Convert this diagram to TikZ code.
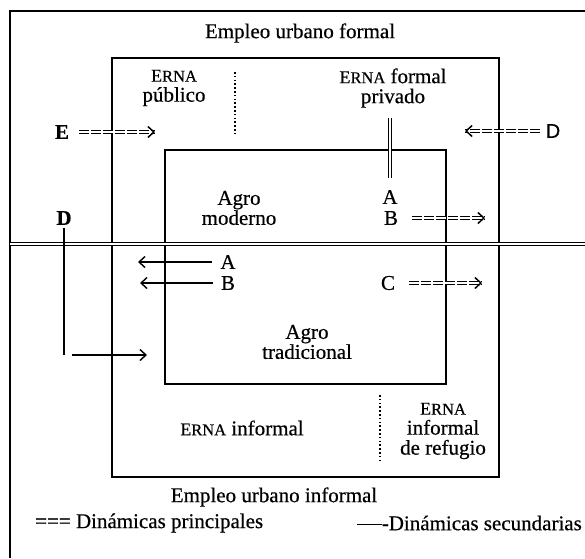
\documentclass[tikz,border=0pt]{standalone}
\usepackage{fontspec}
\setmainfont{Liberation Serif}[FakeBold=0.5]
\newfontfamily\sansD{Liberation Sans}[FakeBold=0.5]
\usetikzlibrary{arrows.meta,decorations.markings}
\newcommand\erna{{\fontsize{18}{20}\selectfont E\fontsize{16.5}{20}\selectfont RNA}}
\begin{document}
\begin{tikzpicture}[x=1pt,y=-1pt,
  frame/.style={line width=1.7pt},
  lbl/.style={inner sep=0pt, align=center, font=\fontsize{21}{20}\selectfont},
  prin/.style={double, double distance=1.3pt, line width=1.4pt, dash pattern=on 10pt off 2pt,
    postaction={decorate},
    decoration={markings, mark=at position 1 with {\arrow[line width=1.5pt]{Straight Barb[length=6pt,width=11pt]}}}},
  sec/.style={line width=1.4pt, -{Straight Barb[length=6pt,width=11pt]}},
  dots/.style={line width=1.5pt, dash pattern=on 1.6pt off 2.2pt},
  dbl/.style={line width=1.3pt, double, double distance=2.2pt}]
\useasboundingbox (0,0) rectangle (585,558);
% frames
\draw[frame] (10,558) -- (10,11) -- (585,11);
\draw[frame] (112,58) rectangle (499,477);
\draw[frame] (165,150) rectangle (446,384);
\draw[dbl] (10,244) -- (585,244);
% dotted separators
\draw[dots] (235,72) -- (235,133);
\draw[dots] (380,395) -- (380,463);
% labels
\node[lbl] (title) at (300,33) {Empleo urbano formal};
\node[lbl] (erpub) at (174,88) {\erna\\público};
\node[lbl] (erfp) at (393,88) {\erna{} formal\\privado};
\node[lbl, font=\fontsize{21}{20}\selectfont\bfseries] (E) at (62,132) {E};
\node[lbl, font=\fontsize{20}{20}\sansD] (Dr) at (553,131) {D};
\node[lbl] (agromod) at (239,208) {Agro\\moderno};
\node[lbl] (A1) at (390,197) {A};
\node[lbl] (B1) at (391,218) {B};
\node[lbl, font=\fontsize{21}{20}\selectfont\bfseries] (Dl) at (64,218) {D};
\node[lbl] (A2) at (228,262) {A};
\node[lbl] (B2) at (228,283) {B};
\node[lbl] (C) at (388,283) {C};
\node[lbl] (agrotrad) at (307,342) {Agro\\tradicional};
\node[lbl] (erinf) at (242,428) {\erna{} informal};
\node[lbl] (erref) at (443,431) {\erna\\informal\\de refugio};
\node[lbl] (subtitle) at (274,497) {Empleo urbano informal};
\node[lbl, anchor=west] (leg1) at (35,523) {=== Dinámicas principales};
\node[lbl, anchor=east] (leg2) at (582,523) {\rule[0.25em]{25pt}{0.9pt}-Dinámicas secundarias};
% connector end points
\coordinate (Eend) at (155,132);
\coordinate (Drend) at (465,131);
\coordinate (B1end) at (485,218);
\coordinate (Cend) at (482,283);
\coordinate (A2end) at (138,262);
\coordinate (B2end) at (140,283);
\coordinate (Dcorner) at (64,355);
\coordinate (Dstart) at (72,355);
\coordinate (Dend) at (147,355);
\coordinate (erfpBot) at (390,118);
% principal dynamics
\draw[prin] ([xshift=10pt]E.east) -- (Eend);
\draw[prin] ([xshift=-6pt]Dr.west) -- (Drend);
\draw[prin] ([xshift=14pt]B1.east) -- (B1end);
\draw[prin] ([xshift=14pt]C.east) -- (Cend);
\draw[dbl] (erfpBot) -- ([yshift=12pt]A1.north);
% secondary dynamics
\draw[sec] ([xshift=-8pt]A2.west) -- (A2end);
\draw[sec] ([xshift=-8pt]B2.west) -- (B2end);
\draw[line width=1.4pt] ([yshift=-3pt]Dl.south) -- (Dcorner);
\draw[sec] (Dstart) -- (Dend);
\end{tikzpicture}
\end{document}
